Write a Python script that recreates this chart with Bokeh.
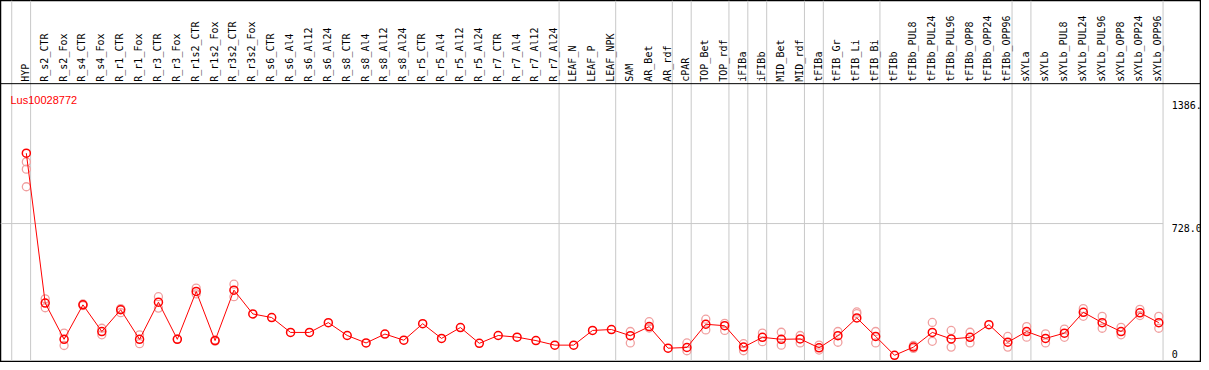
import math
from bokeh.plotting import figure
from bokeh.models import Range1d, Span, ColumnDataSource
from bokeh.core.properties import value
from bokeh.embed import file_html
from bokeh.resources import INLINE

gene = "Lus10028772"

categories = [
    "HYP", "R_s2_CTR", "R_s2_Fox", "R_s4_CTR", "R_s4_Fox", "R_r1_CTR", "R_r1_Fox",
    "R_r3_CTR", "R_r3_Fox", "R_r1s2_CTR", "R_r1s2_Fox", "R_r3s2_CTR", "R_r3s2_Fox",
    "R_s6_CTR", "R_s6_Al4", "R_s6_Al12", "R_s6_Al24", "R_s8_CTR", "R_s8_Al4",
    "R_s8_Al12", "R_s8_Al24", "R_r5_CTR", "R_r5_Al4", "R_r5_Al12", "R_r5_Al24",
    "R_r7_CTR", "R_r7_Al4", "R_r7_Al12", "R_r7_Al24",
    "LEAF_N", "LEAF_P", "LEAF_NPK",
    "SAM", "AR_Bet", "AR_rdf",
    "cPAR",
    "TOP_Bet", "TOP_rdf",
    "iFIBa",
    "iFIBb",
    "MID_Bet", "MID_rdf",
    "tFIBa",
    "tFIB_Gr", "tFIB_Li", "tFIB_Bi",
    "tFIBb", "tFIBb_PUL8", "tFIBb_PUL24", "tFIBb_PUL96", "tFIBb_OPP8", "tFIBb_OPP24", "tFIBb_OPP96",
    "sXYLa",
    "sXYLb", "sXYLb_PUL8", "sXYLb_PUL24", "sXYLb_PUL96", "sXYLb_OPP8", "sXYLb_OPP24", "sXYLb_OPP96",
]

means = [
    1116, 290, 90, 280, 133, 253, 90, 295, 90, 354, 83, 361, 230,
    210, 128, 128, 182, 111, 70, 119, 85, 176, 95, 155, 68, 111, 102, 83, 58,
    58, 139, 144,
    110, 160, 41,
    45,
    173, 165,
    47,
    101,
    90, 92,
    43,
    110, 208, 106,
    2, 47, 128, 92, 101, 171, 74,
    133,
    95, 124, 239, 182, 133, 236, 182,
]

replicates = [
    [1068, 1028, 931], [313, 264], [124, 56], [285, 276], [151, 115], [259, 237], [115, 66],
    [325, 262], [92], [372, 340], [86, 80], [394, 325], [],
    [], [], [], [], [], [], [], [], [], [], [], [], [], [], [], [],
    [], [], [],
    [133, 70], [187, 152], [],
    [70, 27],
    [201, 142], [178, 139],
    [66, 27],
    [124, 77],
    [129, 58], [111, 70],
    [58, 31],
    [133, 74], [241, 232], [133, 70],
    [], [56, 40], [183, 79], [139, 47], [129, 70], [], [106, 47],
    [160, 102],
    [120, 70], [146, 101], [259, 217], [217, 151], [156, 115], [255, 221], [217, 151],
]

group_sizes = [1, 28, 3, 3, 1, 2, 1, 1, 2, 1, 3, 7, 1, 7]

tick_values = [0, 728, 1386]
tick_labels = ["0", "728.0", "1386."]

# ---- layout geometry (reference pixel space) ----
W, H = 1201, 362
REF_W, REF_H = 1209, 370
X0, DX = 26.0, 19.0        # first category centre, spacing (px)
Y0, KY = 363.0, 0.18544    # zero line (px), px per unit


def xv(px):
    return (px - X0) / DX


def yv(px):
    return (Y0 - px) / KY


p = figure(
    width=W, height=H,
    x_range=Range1d(xv(0), xv(REF_W)),
    y_range=Range1d(yv(REF_H), yv(0)),
    output_backend="svg", toolbar_location=None,
    min_border=0, min_border_left=0, min_border_right=0,
    min_border_top=0, min_border_bottom=0,
)
p.axis.visible = False
p.grid.visible = False
p.outline_line_color = "black"
p.outline_line_width = 1.5
p.background_fill_color = "white"
p.border_fill_color = "white"

idx = list(range(len(categories)))

# group separators
bounds = [-1]
c = -1
for g in group_sizes:
    c += g
    bounds.append(c)
bx = [b + 4.3 / DX for b in bounds]
p.segment(x0=bx, y0=[yv(0)] * len(bx), x1=bx, y1=[yv(368)] * len(bx),
          line_color="#c8c8c8", line_width=1)

# horizontal grid at middle tick
p.segment(x0=[xv(0)], y0=[tick_values[1]], x1=[bx[-1]], y1=[tick_values[1]],
          line_color="#c8c8c8", line_width=1)

# header separator
p.add_layout(Span(location=yv(85), dimension="width", line_color="black", line_width=1))

# category labels
p.text(x=[i - 1.0 / DX for i in idx], y=[yv(83)] * len(idx), text=categories,
       angle=math.pi / 2, text_align="left", text_baseline="middle",
       text_font=value("DejaVu Sans Mono"), text_font_size="10px", text_color="black")

# gene title
p.text(x=[xv(10)], y=[yv(102)], text=[gene], text_align="left", text_baseline="alphabetic",
       text_font=value("Liberation Sans"), text_font_size="11px", text_color="red")

# right-hand value labels
p.text(x=[xv(1179)] * 3, y=tick_values, text=tick_labels,
       y_offset=[-1.5, 4.5, 1.0], text_align="left", text_baseline="middle",
       text_font=value("DejaVu Sans Mono"), text_font_size="10px", text_color="black")

# replicates
rx, ry = [], []
for i, reps in enumerate(replicates):
    for r in reps:
        rx.append(i)
        ry.append(r)
p.scatter(x=rx, y=ry, marker="circle", size=8, fill_color=None,
          line_color="#f0a0a0", line_width=1.3)

# mean line and points
p.line(x=idx, y=means, line_color="red", line_width=1)
p.scatter(x=idx, y=means, marker="circle", size=8, fill_color=None,
          line_color="red", line_width=1.5)

open("out.html", "w").write(file_html(p, INLINE))
